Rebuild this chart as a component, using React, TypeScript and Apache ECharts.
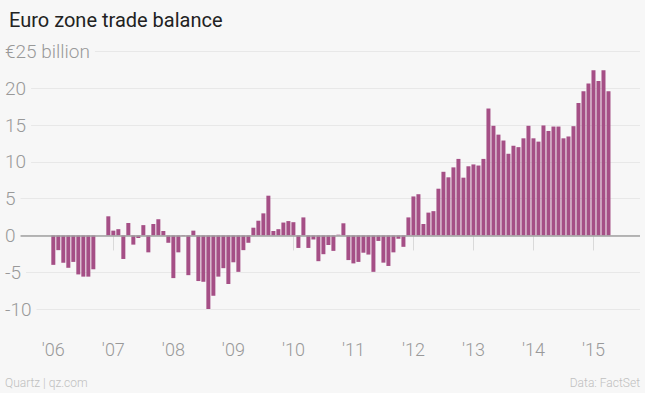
import React, { useEffect, useRef } from "react";
import * as echarts from "echarts";

// Monthly euro zone trade balance, € billion, Jan 2006 – Apr 2015
const balance2006 = [-4.0, -2.0, -3.7, -4.4, -3.6, -5.3, -5.6, -5.6, -4.6, 0, 0, 2.6];
const balance2007 = [0.65, 0.85, -3.2, 1.7, -1.25, -0.35, 1.4, -2.3, 1.55, 2.2, 0.6, -1.0];
const balance2008 = [-5.8, -2.3, -0.1, -5.4, 0.65, -6.2, -6.3, -10.0, -8.2, -5.6, -4.45, -6.6];
const balance2009 = [-3.65, -4.95, -2.0, -1.0, 1.05, 2.0, 3.0, 5.4, 0.6, 0.85, 1.75, 1.95];
const balance2010 = [1.8, -1.7, 2.45, -1.7, -0.55, -3.5, -2.55, -1.3, -2.1, 0.1, 1.65, -3.35];
const balance2011 = [-3.8, -3.6, -2.35, -2.6, -4.95, -0.75, -3.7, -4.15, -2.3, -0.45, -1.55, 2.45];
const balance2012 = [5.3, 5.6, 1.55, 3.1, 3.3, 6.35, 8.65, 7.9, 9.25, 10.4, 7.85, 9.4];
const balance2013 = [9.65, 9.5, 10.4, 17.25, 14.9, 13.7, 12.9, 11.1, 12.2, 12.0, 13.2, 14.9];
const balance2014 = [13.2, 12.75, 14.95, 14.2, 14.8, 14.8, 13.2, 13.45, 14.85, 18.0, 19.6, 20.65];
const balance2015 = [22.45, 21.0, 22.45, 19.6];

const balance = [
  ...balance2006, ...balance2007, ...balance2008, ...balance2009, ...balance2010,
  ...balance2011, ...balance2012, ...balance2013, ...balance2014, ...balance2015,
];

const yearLabels = ["'06", "'07", "'08", "'09", "'10", "'11", "'12", "'13", "'14", "'15"];
const yMin = -10;
const yMax = 25;
const yStep = 5;

const BG = "#f7f7f7";
const BAR = "#a54f86";
const FONT = "Roboto, 'Noto Sans', sans-serif";

export default function App() {
  const ref = useRef<HTMLDivElement>(null);

  useEffect(() => {
    document.body.style.margin = "0";
    document.body.style.background = BG;
    if (!ref.current) return;
    const chart = echarts.init(ref.current, undefined, { renderer: "svg" });

    const tickPos = yearLabels.map((_, i) => i * 12);
    const seriesData = balance.map((v, i) => [i, v]);

    chart.setOption({
      animation: false,
      backgroundColor: BG,
      textStyle: { fontFamily: FONT },
      title: {
        text: "Euro zone trade balance",
        left: 4,
        top: 5,
        textStyle: { fontFamily: FONT, fontSize: 20, fontWeight: "normal", color: "#222" },
      },
      grid: { left: 5, right: 5, top: 51.5, bottom: 84, containLabel: false },
      xAxis: {
        type: "value",
        min: -9.66,
        max: 117.3,
        offset: 3,
        axisLine: { show: false },
        splitLine: { show: false },
        axisTick: {
          show: true,
          length: 15,
          customValues: tickPos,
          lineStyle: { color: "#dadada", width: 1 },
        },
        axisLabel: {
          customValues: tickPos,
          formatter: (v: number) => yearLabels[Math.round(v / 12)] ?? "",
          margin: 28,
          fontSize: 18,
          fontWeight: 300,
          color: "#999",
          fontFamily: FONT,
        },
      },
      yAxis: [
        {
          type: "value",
          min: yMin,
          max: yMax,
          interval: yStep,
          axisLine: { show: false },
          axisTick: { show: false },
          axisLabel: { show: false },
          splitLine: { lineStyle: { color: "#e8e8e8", width: 1 } },
        },
        {
          type: "value",
          min: yMin,
          max: yMax,
          interval: yStep,
          position: "left",
          z: 10,
          axisLine: { show: false },
          axisTick: { show: false },
          splitLine: { show: false },
          axisLabel: {
            inside: true,
            margin: 0,
            align: "left",
            formatter: (v: number) => (v === yMax ? "€25 billion" : String(v)),
            fontSize: 19,
            fontWeight: 300,
            color: "#999",
            fontFamily: FONT,
            backgroundColor: BG,
            padding: [0, 5, 0, 0],
          },
        },
      ],
      series: [
        {
          type: "bar",
          yAxisIndex: 0,
          data: seriesData,
          barWidth: 4,
          itemStyle: { color: BAR },
          markLine: {
            silent: true,
            symbol: "none",
            label: { show: false },
            lineStyle: { color: "#a0a0a0", width: 1.5, type: "solid" },
            data: [{ yAxis: 0 }],
          },
        },
      ],
      graphic: [
        {
          type: "text",
          left: 5,
          bottom: 4,
          style: { text: "Quartz | qz.com", fill: "#c0c0c0", font: `300 12px ${FONT}` },
        },
        {
          type: "text",
          right: 5,
          bottom: 4,
          style: { text: "Data: FactSet", fill: "#c0c0c0", font: `300 12px ${FONT}` },
        },
      ],
    });

    return () => chart.dispose();
  }, []);

  return (
    <div
      ref={ref}
      style={{ position: "fixed", left: 0, top: 0, width: 645, height: 393 }}
    />
  );
}
